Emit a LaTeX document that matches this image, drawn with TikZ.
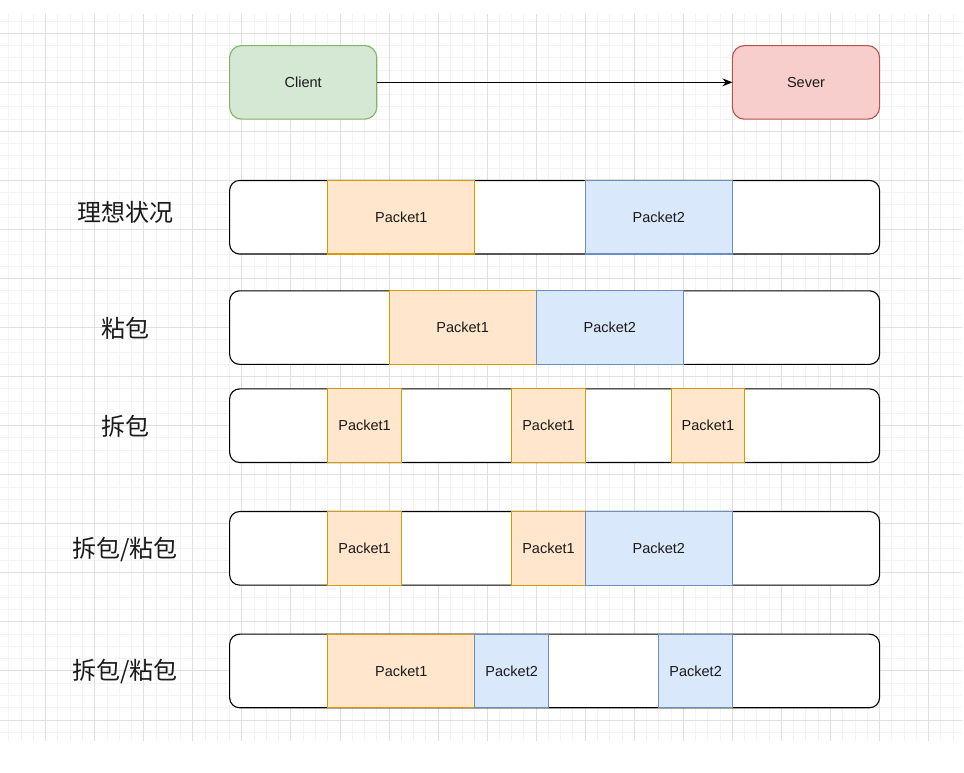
\documentclass[tikz,border=0pt]{standalone}
\usepackage{fontspec}
\setmainfont{Liberation Sans}
\newfontfamily\cjk{Noto Sans CJK SC}
\usetikzlibrary{arrows.meta}
\definecolor{gminor}{HTML}{F3F3F1}
\definecolor{gmajor}{HTML}{E0E0DE}
\definecolor{cfill}{HTML}{D5E8D4}
\definecolor{cline}{HTML}{82B366}
\definecolor{sfill}{HTML}{F8CECC}
\definecolor{sline}{HTML}{B85450}
\definecolor{ofill}{HTML}{FFE6CC}
\definecolor{oline}{HTML}{D79B00}
\definecolor{bfill}{HTML}{DAE8FC}
\definecolor{bline}{HTML}{6C8EBF}
\definecolor{txt}{HTML}{1A1A1A}
\newcommand\pseg[6]{%
  \node[#2, anchor=north west, minimum width={(#4-#3)*12.2625pt}, minimum height={6*12.2625pt}] (#1) at ({45.7+#3*12.2625},{33.3+#5*12.2625}) {#6};}
\tikzset{
  base/.style={inner sep=0pt, outer sep=0pt, line width=1.1pt, text=txt, font=\fontsize{14.5}{17}\selectfont},
  bar/.style={base, draw=black, fill=white, rounded corners=10pt},
  pone/.style={base, draw=oline, fill=ofill},
  ptwo/.style={base, draw=bline, fill=bfill},
  clientbox/.style={base, draw=cline, fill=cfill, rounded corners=12pt},
  severbox/.style={base, draw=sline, fill=sfill, rounded corners=12pt},
  lbl/.style={inner sep=0pt, text=txt, font=\fontsize{24}{28}\selectfont\cjk},
  minorline/.style={draw=gminor, line width=1pt},
  majorline/.style={draw=gmajor, line width=1pt},
  conn/.style={draw=black, line width=1.1pt, -{Stealth[length=10pt,width=8pt]}}
}
\begin{document}
\begin{tikzpicture}[x=1pt,y=-1pt]
\useasboundingbox (0,0) rectangle (964,773);
\fill[white] (0,0) rectangle (964,773);
% grid
\begin{scope}
\clip (0,15) rectangle (962,740);
\foreach \k in {-4,...,76} {\draw[minorline] ({45.7+12.2625*\k},0) -- ({45.7+12.2625*\k},773);}
\foreach \k in {-3,...,60} {\draw[minorline] (0,{33.3+12.2625*\k}) -- (964,{33.3+12.2625*\k});}
\foreach \k in {-1,...,19} {\draw[majorline] ({45.7+49.05*\k},0) -- ({45.7+49.05*\k},773);}
\foreach \k in {-1,...,15} {\draw[majorline] (0,{33.3+49.05*\k}) -- (964,{33.3+49.05*\k});}
\end{scope}
% top boxes
\pseg{client}{clientbox}{15}{27}{1}{Client}
\pseg{sever}{severbox}{56}{68}{1}{Sever}
\draw[conn] (client.east) -- (sever.west);
% row 1
\pseg{bar1}{bar}{15}{68}{12}{}
\pseg{r1a}{pone}{23}{35}{12}{Packet1}
\pseg{r1b}{ptwo}{44}{56}{12}{Packet2}
% row 2
\pseg{bar2}{bar}{15}{68}{21}{}
\pseg{r2a}{pone}{28}{40}{21}{Packet1}
\pseg{r2b}{ptwo}{40}{52}{21}{Packet2}
% row 3
\pseg{bar3}{bar}{15}{68}{29}{}
\pseg{r3a}{pone}{23}{29}{29}{Packet1}
\pseg{r3b}{pone}{38}{44}{29}{Packet1}
\pseg{r3c}{pone}{51}{57}{29}{Packet1}
% row 4
\pseg{bar4}{bar}{15}{68}{39}{}
\pseg{r4a}{pone}{23}{29}{39}{Packet1}
\pseg{r4b}{pone}{38}{44}{39}{Packet1}
\pseg{r4c}{ptwo}{44}{56}{39}{Packet2}
% row 5
\pseg{bar5}{bar}{15}{68}{49}{}
\pseg{r5a}{pone}{23}{35}{49}{Packet1}
\pseg{r5b}{ptwo}{35}{41}{49}{Packet2}
\pseg{r5c}{ptwo}{50}{56}{49}{Packet2}
% labels
\node[lbl] (l1) at (125,212.5) {理想状况};
\node[lbl] (l2) at (125,328) {粘包};
\node[lbl] (l3) at (125,426) {拆包};
\node[lbl] (l4) at (125,549.5) {拆包/粘包};
\node[lbl] (l5) at (125,671.5) {拆包/粘包};
\end{tikzpicture}
\end{document}
